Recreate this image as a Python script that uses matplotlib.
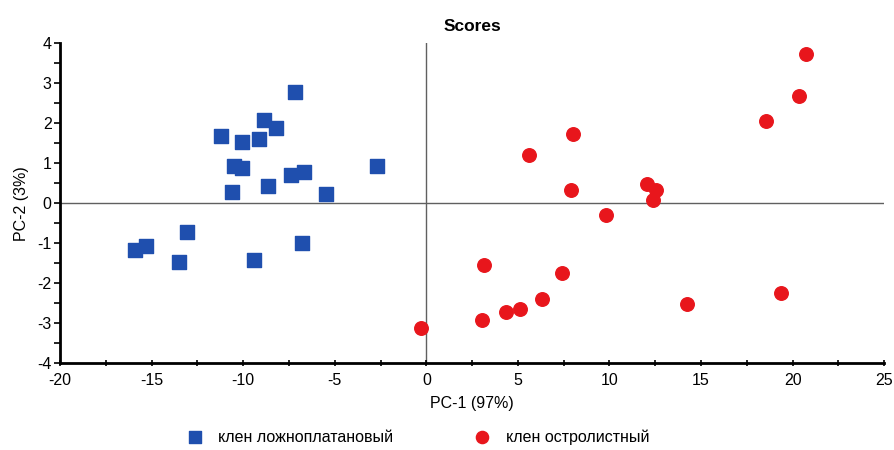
import numpy as np
import matplotlib.pyplot as plt
from matplotlib.ticker import MultipleLocator

plt.rcParams['font.family'] = ['Liberation Sans', 'DejaVu Sans']
plt.rcParams['axes.unicode_minus'] = False

# клен ложноплатановый (blue squares)
pc1_a = [-7.19, -8.88, -8.23, -11.21, -10.09, -9.16, -10.52, -10.09, -7.37, -6.68,
         -2.68, -10.60, -8.65, -5.48, -13.07, -15.31, -15.89, -13.49, -9.41, -6.77]
pc2_a = [2.77, 2.07, 1.87, 1.67, 1.52, 1.60, 0.93, 0.89, 0.70, 0.78,
         0.93, 0.27, 0.43, 0.23, -0.71, -1.07, -1.18, -1.46, -1.42, -0.99]

# клен остролистный (red circles)
pc1_b = [-0.29, 20.72, 20.37, 18.57, 7.99, 5.63, 7.92, 12.07, 12.54, 12.36,
         9.81, 3.13, 7.41, 19.35, 14.22, 6.30, 5.10, 4.33, 3.06]
pc2_b = [-3.11, 3.74, 2.68, 2.06, 1.74, 1.20, 0.33, 0.47, 0.33, 0.07,
         -0.29, -1.54, -1.74, -2.25, -2.52, -2.40, -2.64, -2.72, -2.92]

labels = ['клен ложноплатановый', 'клен остролистный']

fig = plt.figure(figsize=(8.94, 4.5), dpi=100)
ax = fig.add_axes([0.0671, 0.193, 0.922, 0.711])

ax.axhline(0, color='#606060', lw=1, zorder=1)
ax.axvline(0, color='#606060', lw=1, zorder=1)

ax.scatter(pc1_a, pc2_a, marker='s', s=90, color='#1f4fae', label=labels[0], zorder=3)
ax.scatter(pc1_b, pc2_b, marker='o', s=95, color='#e8161c', label=labels[1], zorder=3)

ax.set_xlim(-20, 25)
ax.set_ylim(-4, 4)
ax.xaxis.set_major_locator(MultipleLocator(5))
ax.xaxis.set_minor_locator(MultipleLocator(2.5))
ax.yaxis.set_major_locator(MultipleLocator(1))
ax.yaxis.set_minor_locator(MultipleLocator(0.5))

for s in ['top', 'right']:
    ax.spines[s].set_visible(False)
for s in ['left', 'bottom']:
    ax.spines[s].set_linewidth(2)
    ax.spines[s].set_color('black')

ax.tick_params(axis='both', which='both', labelsize=11.5, length=4, width=1.2, pad=2)
ax.tick_params(axis='x', which='both', direction='inout', pad=5)

ax.set_xlabel('PC-1 (97%)', fontsize=11.5, labelpad=6)
ax.set_ylabel('PC-2 (3%)', fontsize=11.5, labelpad=6)
ax.set_title('Scores', fontsize=12.5, fontweight='bold', pad=9)

fig.legend(loc='lower center', bbox_to_anchor=(0.463, -0.02), ncol=2, frameon=False,
           fontsize=11.5, columnspacing=4.6, handletextpad=0.45, markerscale=0.9)

fig.savefig('out.png', dpi=100)
